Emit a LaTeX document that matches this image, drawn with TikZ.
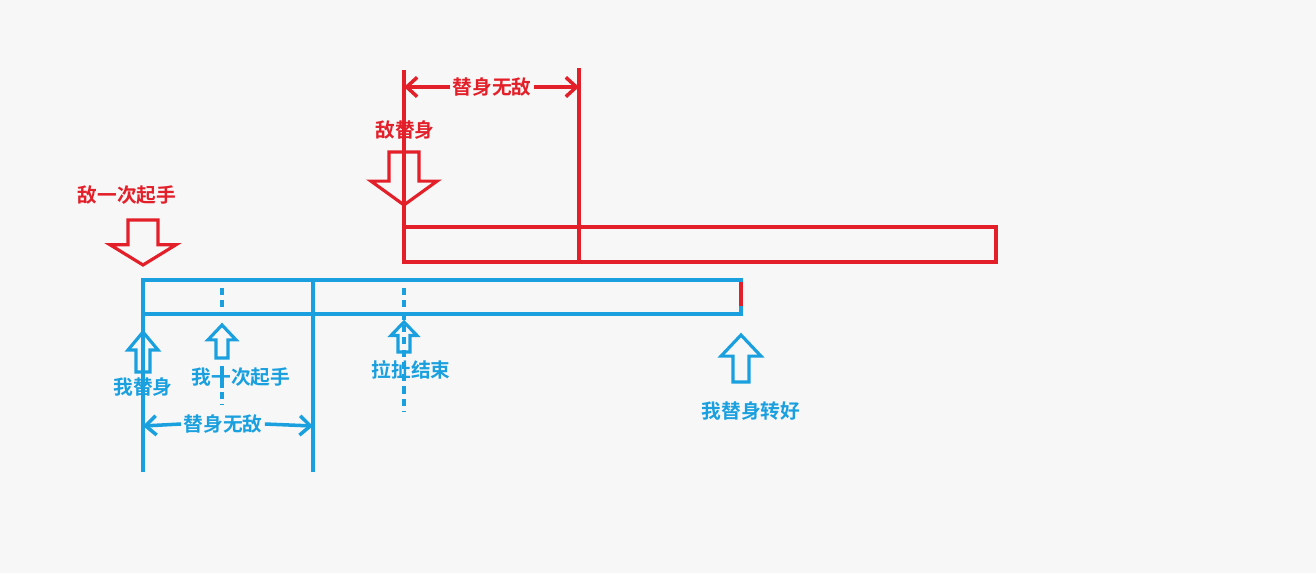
\documentclass[tikz,border=0pt]{standalone}
\usepackage{fontspec}
\newfontfamily\cjk{Noto Sans CJK SC Bold}
\usetikzlibrary{positioning,arrows.meta}
\definecolor{foered}{HTML}{E3202A}
\definecolor{selfblue}{HTML}{1AA0DF}
\tikzset{
  redline/.style={draw=foered, line width=1pt},
  blueline/.style={draw=selfblue, line width=1pt},
  redtext/.style={text=foered, font=\cjk\fontsize{5.6}{7}\selectfont, inner sep=0.5pt},
  bluetext/.style={text=selfblue, font=\cjk\fontsize{5.6}{7}\selectfont, inner sep=0.5pt},
  span/.style={-{Straight Barb[length=3pt,width=5.5pt]}, line width=1pt},
}
% hollow block arrow: colour, x, tip y, tail y, head half width, shaft half width
\newcommand{\blockarrow}[6]{%
  \pgfmathsetmacro{\ymid}{#3+0.45*(#4-#3)}
  \draw[#1, line width=0.9pt]
    ({#2-#6},\ymid) -- ({#2-#5},\ymid) -- (#2,#3) -- ({#2+#5},\ymid) --
    ({#2+#6},\ymid) -- ({#2+#6},#4) -- ({#2-#6},#4) -- cycle;}
\begin{document}
\begin{tikzpicture}[x=0.01cm, y=-0.01cm]
  \fill[white!97!black] (0,0) rectangle (1316,573);

  % Enemy swap
  \coordinate (eL) at (404,70);
  \coordinate (eR) at (579,68);
  \draw[redline] (eL) -- (404,262);
  \draw[redline] (eR) -- (579,262);
  \draw[redline] (404,227) rectangle (996,262);
  \node[redtext] (einv) at (492,87) {替身无敌};
  \draw[redline, span] (einv.west) -- (404,87);
  \draw[redline, span] (einv.east) -- (579,87);
  \node[redtext] (eswap) at (405,130) {敌替身};
  \blockarrow{foered}{404}{205}{152}{33}{15}
  \node[redtext] (efirst) at (127,195) {敌一次起手};
  \blockarrow{foered}{143}{265}{220}{33}{15}

  % My swap
  \draw[blueline] (143,280) rectangle (741,314);
  \draw[blueline] (143,280) -- (143,472);
  \draw[blueline] (313,280) -- (313,472);
  \draw[blueline, dash pattern=on 2pt off 1.5pt] (222,288) -- (222,312);
  \draw[blueline, dash pattern=on 2pt off 1.5pt] (222,392) -- (222,405);
  \draw[blueline, dash pattern=on 2pt off 1.5pt] (404,288) -- (404,412);
  \draw[foered, line width=1pt] (741,282) -- (741,306);

  \blockarrow{selfblue}{143}{332}{372}{15}{7}
  \node[bluetext] (sswap) at (143,387) {我替身};
  \blockarrow{selfblue}{222}{325}{358}{14}{6}
  \node[bluetext] (sfirst) at (241,377) {我一次起手};
  \draw[selfblue, line width=1pt] (222,366) -- (222,388);
  \blockarrow{selfblue}{404}{322}{352}{13}{6}
  \node[bluetext] (pull) at (411,370) {拉扯结束};
  \blockarrow{selfblue}{741}{335}{382}{20}{8}
  \node[bluetext] (ready) at (751,411) {我替身转好};

  \node[bluetext] (sinv) at (223,424) {替身无敌};
  \draw[blueline, span] (sinv.west) -- (143,426);
  \draw[blueline, span] (sinv.east) -- (313,426);
\end{tikzpicture}
\end{document}
